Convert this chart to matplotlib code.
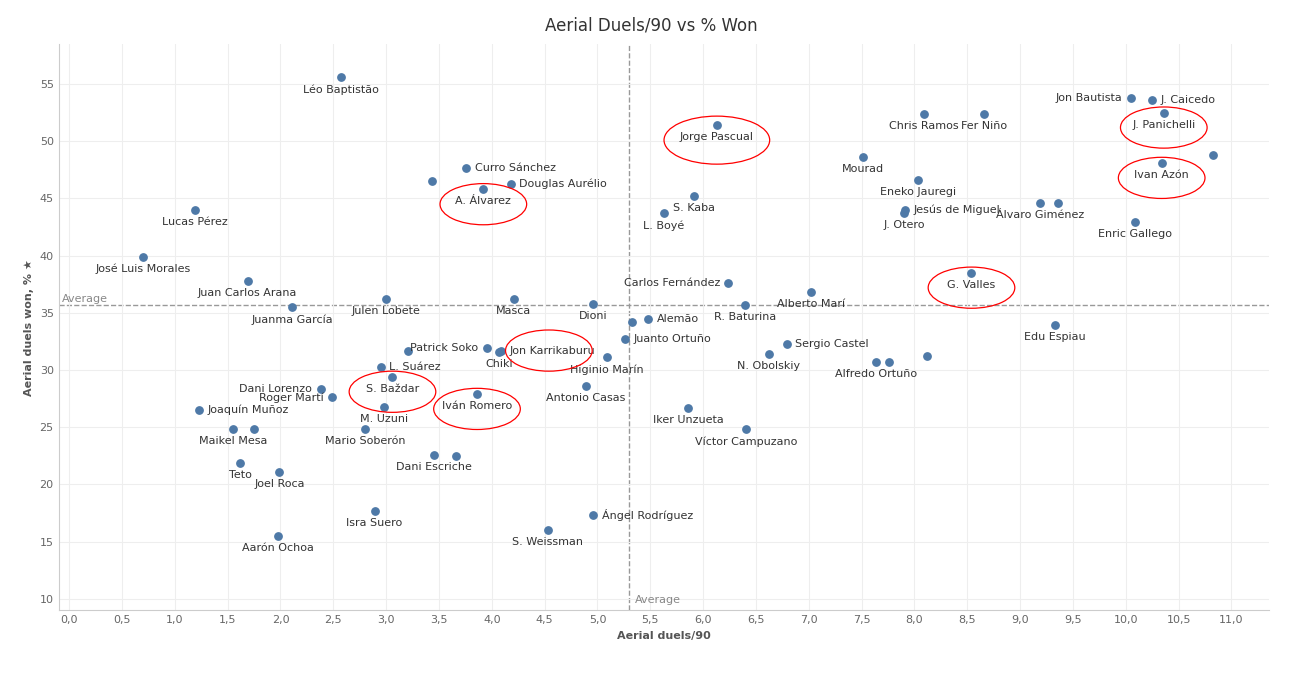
import matplotlib.pyplot as plt
from matplotlib.patches import Ellipse

names = ["Léo Baptistão", "Jon Bautista", "J. Caicedo", "Chris Ramos", "Fer Niño", "J. Panichelli",
         "Jorge Pascual", "", "Ivan Azón", "Mourad", "Curro Sánchez", "", "Eneko Jauregi",
         "Douglas Aurélio", "A. Álvarez", "S. Kaba", "Álvaro Giménez", "", "Jesús de Miguel", "J. Otero",
         "Lucas Pérez", "L. Boyé", "Enric Gallego", "José Luis Morales", "G. Valles", "Juan Carlos Arana",
         "Carlos Fernández", "Alberto Marí", "Julen Lobete", "Masca", "Dioni", "R. Baturina", "Juanma García",
         "Alemão", "", "Edu Espiau", "Juanto Ortuño", "Sergio Castel", "Patrick Soko", "", "Chiki",
         "Jon Karrikaburu", "N. Obolskiy", "Higinio Marín", "Alfredo Ortuño", "", "", "L. Suárez", "S. Baždar",
         "Antonio Casas", "Dani Lorenzo", "Roger Martí", "Iván Romero", "M. Uzuni", "Joaquín Muñoz",
         "Iker Unzueta", "Mario Soberón", "Maikel Mesa", "", "Víctor Campuzano", "Dani Escriche", "",
         "Teto", "Joel Roca", "Isra Suero", "Ángel Rodríguez", "S. Weissman", "Aarón Ochoa"]
duels90 = [2.57, 10.05, 10.25, 8.09, 8.66, 10.36, 6.13, 10.83, 10.34, 7.51, 3.76, 3.43, 8.03,
           4.18, 3.92, 5.91, 9.19, 9.36, 7.91, 7.90, 1.19, 5.63, 10.09, 0.70, 8.54, 1.69,
           6.24, 7.02, 3.00, 4.21, 4.96, 6.40, 2.11, 5.48, 5.33, 9.33, 5.26, 6.79, 3.95, 3.21, 4.07,
           4.09, 6.62, 5.09, 7.64, 7.76, 8.12, 2.95, 3.06, 4.89, 2.38, 2.49, 3.86, 2.98, 1.23,
           5.86, 2.80, 1.55, 1.75, 6.41, 3.45, 3.66, 1.62, 1.99, 2.89, 4.96, 4.53, 1.98]
won_pct = [55.6, 53.8, 53.6, 52.4, 52.4, 52.5, 51.4, 48.8, 48.1, 48.6, 47.7, 46.5, 46.6,
           46.3, 45.8, 45.2, 44.6, 44.6, 44.0, 43.7, 44.0, 43.7, 42.9, 39.9, 38.5, 37.8,
           37.6, 36.8, 36.2, 36.2, 35.8, 35.7, 35.5, 34.5, 34.2, 33.9, 32.7, 32.3, 31.9, 31.7, 31.6,
           31.7, 31.4, 31.1, 30.7, 30.7, 31.2, 30.3, 29.4, 28.6, 28.3, 27.6, 27.9, 26.8, 26.5,
           26.7, 24.8, 24.8, 24.8, 24.8, 22.6, 22.5, 21.9, 21.1, 17.7, 17.3, 16.0, 15.5]
# label placement: b below, r right, l left
place = ["b", "l", "r", "b", "b", "b", "b", "b", "b", "b", "r", "b", "b",
         "r", "b", "b", "b", "b", "r", "b", "b", "b", "b", "b", "b", "b",
         "l", "b", "b", "b", "b", "b", "b", "r", "b", "b", "r", "r", "l", "b", "b",
         "r", "b", "b", "b", "b", "b", "r", "b", "b", "l", "l", "b", "b", "r",
         "b", "b", "b", "b", "b", "b", "b", "b", "b", "b", "r", "b", "b"]
circled = ["Jorge Pascual", "J. Panichelli", "Ivan Azón", "A. Álvarez", "G. Valles",
           "Jon Karrikaburu", "S. Baždar", "Iván Romero"]
avg_x, avg_y = 5.30, 35.66

plt.rcParams['font.family'] = ['DejaVu Sans']
fig = plt.figure(figsize=(13.02, 6.78), dpi=100)
ax = fig.add_axes([0.045, 0.1, 0.93, 0.835])
ax.scatter(duels90, won_pct, s=28, color='#4e79a7', zorder=3)
ax.set_xlim(-0.1, 11.36)
ax.set_ylim(9, 58.5)
ax.set_xticks([i * 0.5 for i in range(23)])
ax.set_xticklabels([f"{i*0.5:.1f}".replace('.', ',') for i in range(23)])
ax.set_yticks(range(10, 56, 5))
ax.tick_params(colors='#666666', labelsize=8, length=0)
ax.grid(color='#eeeeee', lw=0.8)
for s in ax.spines.values():
    s.set_visible(False)
ax.spines['bottom'].set_visible(True)
ax.spines['bottom'].set_color('#cccccc')
ax.spines['left'].set_visible(True)
ax.spines['left'].set_color('#cccccc')
ax.axvline(avg_x, color='#999999', ls='--', lw=1, zorder=1)
ax.axhline(avg_y, color='#999999', ls='--', lw=1, zorder=1)
ax.text(avg_x + 0.05, 9.6, "Average", fontsize=8, color='#888888')
ax.text(-0.07, avg_y + 0.3, "Average", fontsize=8, color='#888888')

for n, x, y, p in zip(names, duels90, won_pct, place):
    if not n:
        continue
    if p == "b":
        t = ax.annotate(n, (x, y), xytext=(0, -5), textcoords='offset points', ha='center', va='top')
    elif p == "r":
        t = ax.annotate(n, (x, y), xytext=(6, 0), textcoords='offset points', ha='left', va='center')
    else:
        t = ax.annotate(n, (x, y), xytext=(-6, 0), textcoords='offset points', ha='right', va='center')
    t.set_fontsize(8)
    t.set_color('#333333')
    if n in circled:
        cx = x if p == "b" else (x + 0.45 if p == "r" else x - 0.45)
        cy = y - 1.3 if p == "b" else y
        ax.add_patch(Ellipse((cx, cy), 0.82 if n != "Jorge Pascual" else 1.0,
                             3.6 if n != "Jorge Pascual" else 4.2,
                             fill=False, color='red', lw=0.9, zorder=4))

ax.set_xlabel("Aerial duels/90", fontsize=8, color='#555555', fontweight='bold')
ax.set_ylabel("Aerial duels won, % ★", fontsize=8, color='#555555', fontweight='bold')
fig.suptitle("Aerial Duels/90 vs % Won", fontsize=12, color='#333333', y=0.975)
fig.savefig("out.png")
